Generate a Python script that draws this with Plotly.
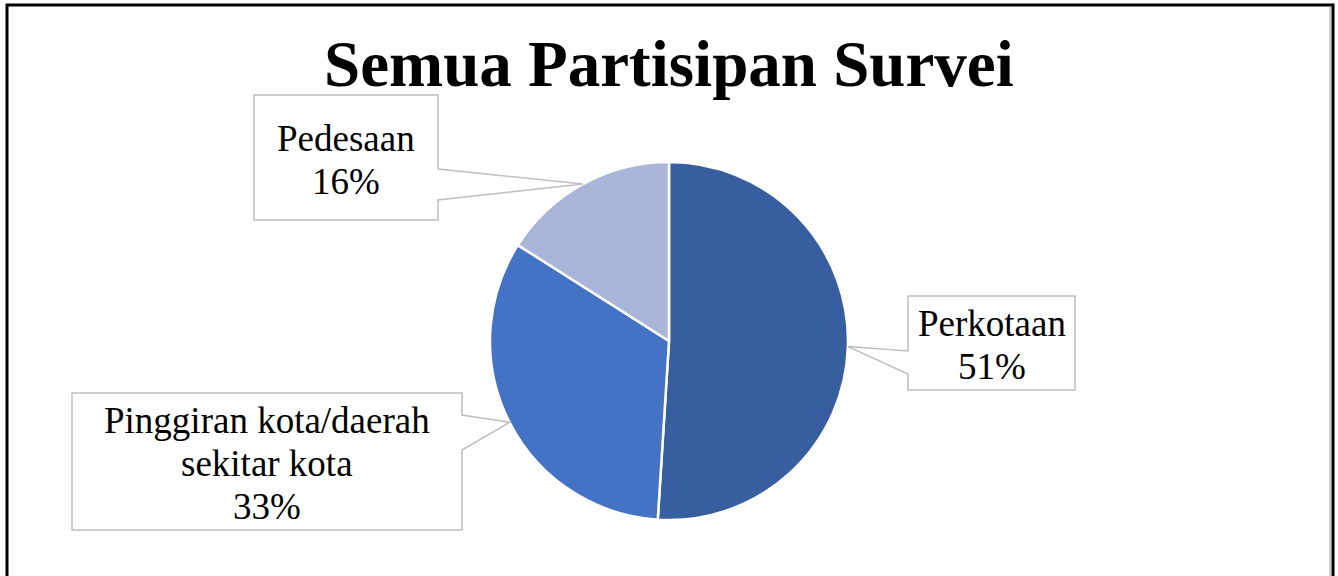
import math
import plotly.graph_objects as go

# Survey participants by area type
categories = ["Perkotaan", "Pinggiran kota/daerah sekitar kota", "Pedesaan"]
label_lines = [["Perkotaan"], ["Pinggiran kota/daerah", "sekitar kota"], ["Pedesaan"]]
values = [51, 33, 16]
colors = ["#375FA0", "#4472C4", "#A9B6DA"]

title_text = "Semua Partisipan Survei"

# Canvas and pie geometry (pixels)
W, H = 1338, 576
CX, CY, R = 669, 341, 179

# Callout boxes: (x0, y0, x1, y1), side facing the pie, pointer base span on that side
callouts = [
    ((908, 296, 1075, 390), "left", (351, 374)),
    ((72, 393, 462, 530), "right", (415, 450)),
    ((254, 95, 438, 220), "right", (169, 200)),
]

SERIF = "Liberation Serif, Times New Roman, serif"
LABEL_SIZE = 37
LINE_STEP = 43

fig = go.Figure()

fig.add_trace(go.Pie(
    labels=categories,
    values=values,
    sort=False,
    direction="clockwise",
    rotation=0,
    marker=dict(colors=colors, line=dict(color="white", width=2.5)),
    textinfo="none",
    hoverinfo="label+percent",
    showlegend=False,
    domain=dict(
        x=[(CX - R) / W, (CX + R) / W],
        y=[(H - (CY + R)) / H, (H - (CY - R)) / H],
    ),
))

shapes = []
annotations = []

total = sum(values)
start = 0.0
for lines, v, (box, side, base) in zip(label_lines, values, callouts):
    mid = (start + v / 2) / total * 2 * math.pi
    start += v
    tx = CX + R * math.sin(mid)
    ty = CY - R * math.cos(mid)
    x0, y0, x1, y1 = box
    b0, b1 = base
    if side == "right":
        path = (f"M{x0},{y0} L{x1},{y0} L{x1},{b0} L{tx:.1f},{ty:.1f} "
                f"L{x1},{b1} L{x1},{y1} L{x0},{y1} Z")
    else:
        path = (f"M{x0},{y0} L{x1},{y0} L{x1},{y1} L{x0},{y1} "
                f"L{x0},{b1} L{tx:.1f},{ty:.1f} L{x0},{b0} Z")
    shapes.append(dict(
        type="path", path=path, xref="x", yref="y",
        line=dict(color="#BFBFBF", width=1.5), fillcolor="white", layer="above",
    ))
    text_lines = lines + [f"{round(v / total * 100)}%"]
    n = len(text_lines)
    yc = (y0 + y1) / 2 + 2
    for i, t in enumerate(text_lines):
        annotations.append(dict(
            x=(x0 + x1) / 2, y=yc + (i - (n - 1) / 2) * LINE_STEP,
            xref="x", yref="y", text=t,
            showarrow=False, xanchor="center", yanchor="middle", align="center",
            font=dict(family=SERIF, size=LABEL_SIZE, color="black"),
        ))

# Title
annotations.append(dict(
    x=CX, y=64, xref="x", yref="y", text=title_text, showarrow=False,
    xanchor="center", yanchor="middle",
    font=dict(family=SERIF, size=65, color="black", weight="bold"),
))

# Chart frame
shapes.append(dict(type="rect", xref="x", yref="y", x0=7, y0=5, x1=1333, y1=600,
                   line=dict(color="black", width=3), layer="above"))
shapes.append(dict(type="line", xref="x", yref="y", x0=1330, y0=6, x1=1330, y1=600,
                   line=dict(color="#A0A0A0", width=1), layer="above"))

fig.update_layout(
    width=W, height=H,
    margin=dict(l=0, r=0, t=0, b=0),
    paper_bgcolor="white", plot_bgcolor="rgba(0,0,0,0)",
    xaxis=dict(range=[0, W], visible=False, fixedrange=True),
    yaxis=dict(range=[H, 0], visible=False, fixedrange=True),
    shapes=shapes,
    annotations=annotations,
)

fig.write_html("out.html")
